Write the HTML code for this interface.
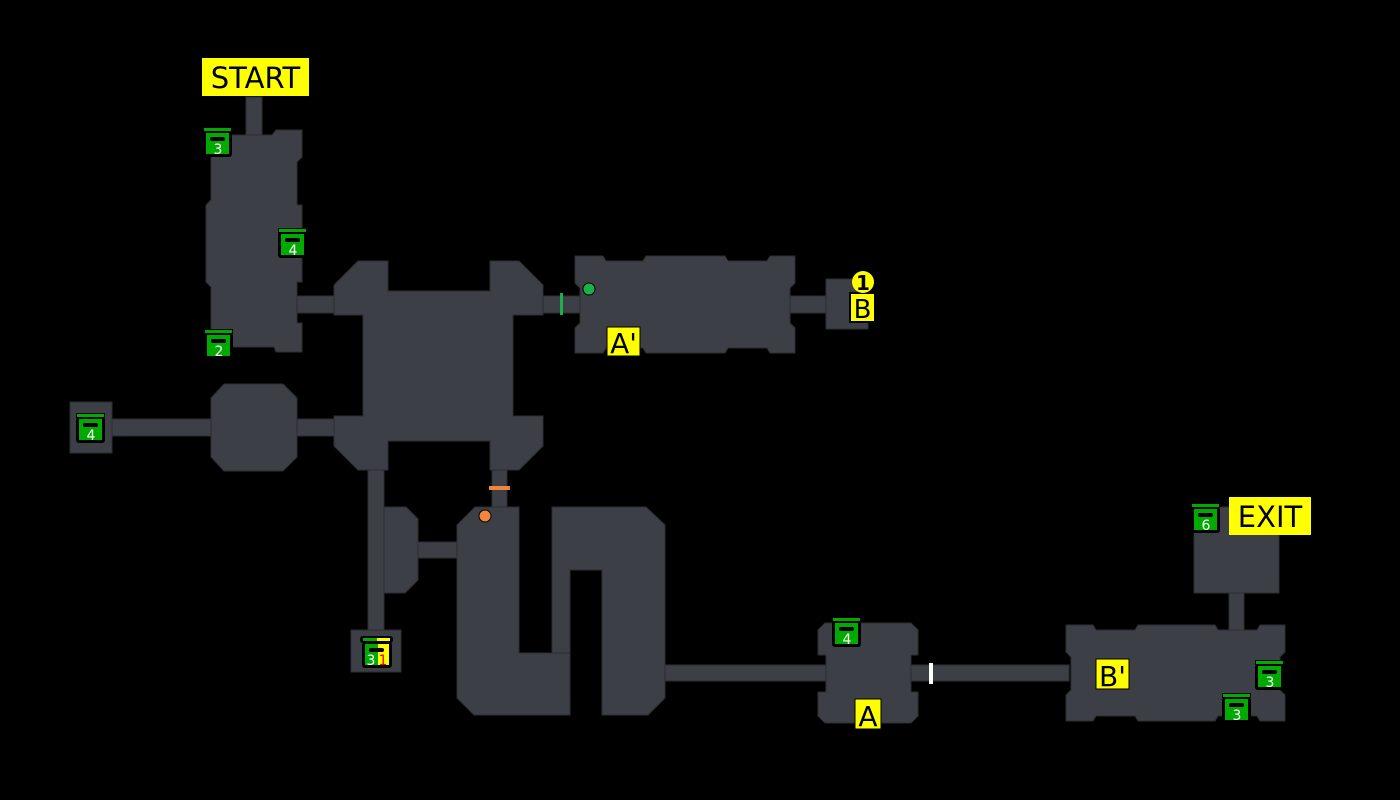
<!DOCTYPE html>
<html><head><meta charset="utf-8"><style>
html,body{margin:0;padding:0;background:#000;}
svg{display:block}
.r{fill:#3c3f45;stroke:#2c2e33;stroke-width:1}
.lbl{font-family:"DejaVu Sans","Liberation Sans",sans-serif;fill:#000}
.cn{font-family:"DejaVu Sans","Liberation Sans",sans-serif;font-size:14px;fill:#fff;text-anchor:middle}
</style></head><body>
<svg width="1400" height="800" viewBox="0 0 1400 800" xmlns="http://www.w3.org/2000/svg">
<defs>
<g id="ch">
<rect x="0" y="-1" width="29" height="5" fill="#000"/>
<rect x="1" y="0" width="27" height="3" fill="#0a0"/>
<rect x="0" y="3" width="29" height="26" rx="3" fill="#000"/>
<rect x="3" y="5" width="23" height="21" fill="#0a0"/>
<rect x="7" y="9" width="15" height="4" rx="2" fill="#000"/>
</g>
</defs>
<rect class="r" x="246" y="97" width="16" height="40"/>
<rect class="r" x="295" y="296" width="42" height="17"/>
<rect class="r" x="540" y="296" width="40" height="17"/>
<rect class="r" x="294" y="419" width="42" height="17"/>
<rect class="r" x="110" y="419" width="103" height="17"/>
<rect class="r" x="787" y="296" width="41" height="17"/>
<rect class="r" x="368" y="466" width="16" height="166"/>
<rect class="r" x="416" y="542" width="43" height="16"/>
<rect class="r" x="492" y="466" width="15" height="43"/>
<rect class="r" x="662" y="665" width="166" height="16"/>
<rect class="r" x="909" y="665" width="160" height="16"/>
<rect class="r" x="1229" y="591" width="15" height="41"/>
<polygon class="r" points="211,135 246,135 262,135 272,135 276,130 302,130 302,157 297,162 297,205 302,205 302,282 297,282 297,323 302,323 302,352 276,352 274,347 211,347 211,287 206,282 206,205 211,200"/>
<polygon class="r" points="358,261 388,261 388,291 490,291 490,261 519,261 543,285 543,315 513,315 513,416 543,416 543,446 519,470 490,470 490,441 388,441 388,470 358,470 334,446 334,416 363,416 363,315 334,315 334,285"/>
<polygon class="r" points="224,384 283,384 297,398 297,457 283,471 224,471 211,457 211,398"/>
<rect class="r" x="70" y="402" width="42" height="51"/>
<polygon class="r" points="575,256 603,256 606,261 643,261 646,256 725,256 728,261 767,261 770,256 795,256 795,283 790,288 790,323 795,328 795,353 770,353 767,348 728,348 725,353 646,353 643,348 606,348 603,353 575,353 575,328 580,323 580,288 575,283"/>
<rect class="r" x="826" y="279" width="42" height="50"/>
<polygon class="r" points="384,507 406,507 418,519 418,580 405,593 384,593"/>
<rect class="r" x="351" y="630" width="50" height="42"/>
<polygon class="r" points="475,507 519,507 519,653 570,653 570,715 474,715 457,698 457,525"/>
<polygon class="r" points="552,507 646,507 665,525 665,698 648,715 602,715 602,570 570,570 570,653 552,653"/>
<polygon class="r" points="825,623 911,623 918,630 918,655 911,655 911,692 918,692 918,716 911,723 825,723 818,716 818,692 826,692 826,655 818,655 818,630"/>
<polygon class="r" points="1066,625 1093,625 1096,630 1135,630 1138,625 1215,625 1218,630 1257,630 1260,625 1285,625 1285,652 1280,657 1280,690 1285,695 1285,721 1260,721 1257,716 1218,716 1215,721 1138,721 1135,716 1096,716 1093,721 1066,721 1066,695 1071,690 1071,657 1066,652"/>
<polygon class="r" points="1198,507 1279,507 1279,593 1194,593 1194,511"/>
<rect x="560" y="293" width="3" height="22" fill="#1db04a"/>
<circle cx="589" cy="289" r="6" fill="#1db04a" stroke="#000" stroke-width="1"/>
<rect x="489" y="486" width="21" height="4" fill="#f0863c"/>
<circle cx="485" cy="516" r="6" fill="#f0863c" stroke="#000" stroke-width="1"/>
<rect x="929" y="663" width="4" height="21" fill="#fff"/>
<rect x="202" y="58" width="107" height="38" fill="#ff0"/>
<text class="lbl" x="255.5" y="88" font-size="29" text-anchor="middle">START</text>
<rect x="1229" y="497" width="82" height="38" fill="#ff0"/>
<text class="lbl" x="1270" y="527" font-size="29" text-anchor="middle">EXIT</text>
<rect x="849" y="292" width="27" height="31" fill="#000"/>
<rect x="851" y="294" width="23" height="27" fill="#ff0"/>
<text class="lbl" x="862.5" y="318" font-size="26" text-anchor="middle">B</text>
<circle cx="863" cy="282" r="11" fill="#ff0"/>
<text class="lbl" x="863" y="290" font-size="20" font-weight="bold" text-anchor="middle">1</text>
<rect x="607" y="327" width="33" height="29" fill="#ff0" stroke="#000" stroke-width="1"/>
<text class="lbl" x="623.5" y="353" font-size="28" text-anchor="middle">A'</text>
<rect x="855" y="699" width="26" height="30" fill="#ff0" stroke="#000" stroke-width="1"/>
<text class="lbl" x="868" y="726" font-size="28" text-anchor="middle">A</text>
<rect x="1096" y="659" width="33" height="30" fill="#ff0" stroke="#000" stroke-width="1"/>
<text class="lbl" x="1112.5" y="686" font-size="28" text-anchor="middle">B'</text>
<use href="#ch" x="203" y="128"/><text class="cn" x="218" y="154">3</text>
<use href="#ch" x="278" y="229"/><text class="cn" x="293" y="255">4</text>
<use href="#ch" x="204" y="330"/><text class="cn" x="219" y="356">2</text>
<use href="#ch" x="76" y="414"/><text class="cn" x="91" y="440">4</text>
<use href="#ch" x="832" y="618"/><text class="cn" x="847" y="644">4</text>
<use href="#ch" x="1191" y="504"/><text class="cn" x="1206" y="530">6</text>
<use href="#ch" x="1255" y="661"/><text class="cn" x="1270" y="687">3</text>
<use href="#ch" x="1222" y="694"/><text class="cn" x="1237" y="720">3</text>
<g>
<rect x="360" y="636" width="33" height="7" rx="3" fill="#000"/>
<rect x="363" y="638" width="14" height="3" fill="#0a0"/>
<rect x="377" y="638" width="13" height="3" fill="#ff0"/>
<rect x="362" y="642" width="30" height="26" rx="3" fill="#000"/>
<rect x="365" y="644" width="13" height="21" fill="#0a0"/>
<rect x="378" y="644" width="11" height="21" fill="#ff0"/>
<rect x="369" y="648" width="15" height="4" rx="2" fill="#000"/>
<text x="371" y="665" font-family="DejaVu Sans,sans-serif" font-size="14" fill="#fff" text-anchor="middle">3</text>
<text x="383" y="665" font-family="DejaVu Sans,sans-serif" font-size="14" fill="#e00" text-anchor="middle">1</text>
</g>
</svg>
</body></html>
